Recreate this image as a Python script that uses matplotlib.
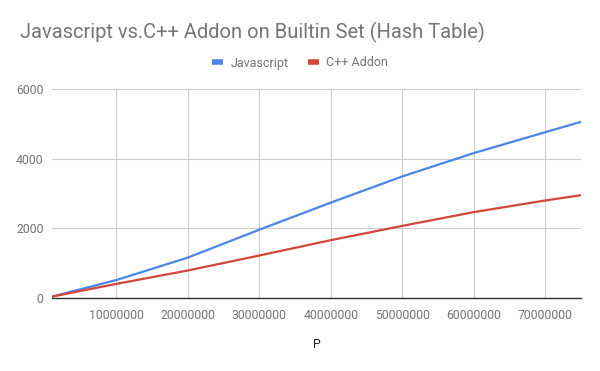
import matplotlib.pyplot as plt

plt.rcParams['font.family'] = ['Roboto', 'DejaVu Sans']

# values
p_values = [1000000, 10000000, 20000000, 30000000, 40000000,
            50000000, 60000000, 70000000, 75000000]
javascript = [40, 515, 1160, 1960, 2738, 3490, 4160, 4760, 5057]
cpp_addon = [40, 405, 790, 1220, 1660, 2070, 2465, 2800, 2951]
x_ticks = [10000000, 20000000, 30000000, 40000000, 50000000, 60000000, 70000000]
y_ticks = [0, 2000, 4000, 6000]

fig = plt.figure(figsize=(6.0, 3.71), dpi=100)
ax = fig.add_axes([52 / 600, 1 - 298 / 371, (581 - 52) / 600, (298 - 89) / 371])

ax.plot(p_values, javascript, color='#4a86e8', linewidth=1.6, label='Javascript')
ax.plot(p_values, cpp_addon, color='#d44637', linewidth=1.6, label='C++ Addon')

# axes
ax.set_xlim(1000000, 75000000)
ax.set_ylim(0, 6000)
ax.set_xticks(x_ticks)
ax.set_xticklabels([str(t) for t in x_ticks])
ax.set_yticks(y_ticks)
ax.set_yticklabels([str(t) for t in y_ticks])
ax.tick_params(length=0, labelsize=8.8, labelcolor='#757575')
ax.tick_params(axis='x', pad=8)
ax.tick_params(axis='y', pad=6)
ax.grid(True, color='#cccccc', linewidth=0.8)
ax.set_axisbelow(True)
for side in ['left', 'right', 'top']:
    ax.spines[side].set_visible(False)
ax.spines['bottom'].set_color('#333333')
ax.spines['bottom'].set_linewidth(1.0)
ax.spines['bottom'].set_zorder(5)

# texts
fig.text(20 / 600, 1 - 38 / 371, 'Javascript vs.C++ Addon on Builtin Set (Hash Table)',
         fontsize=14.5, color='#757575')
fig.text(317 / 600, 1 - 348 / 371, 'P', fontsize=8.8, color='#222222', ha='center')
leg = fig.legend(loc='center', bbox_to_anchor=(300 / 600, 1 - 63 / 371), ncol=2,
                 frameon=False, fontsize=9, labelcolor='#757575', handlelength=0.9,
                 handletextpad=0.6, columnspacing=1.5)
for h in leg.legend_handles:
    h.set_linewidth(4)
    h.set_solid_capstyle('butt')

plt.savefig('out.png')
